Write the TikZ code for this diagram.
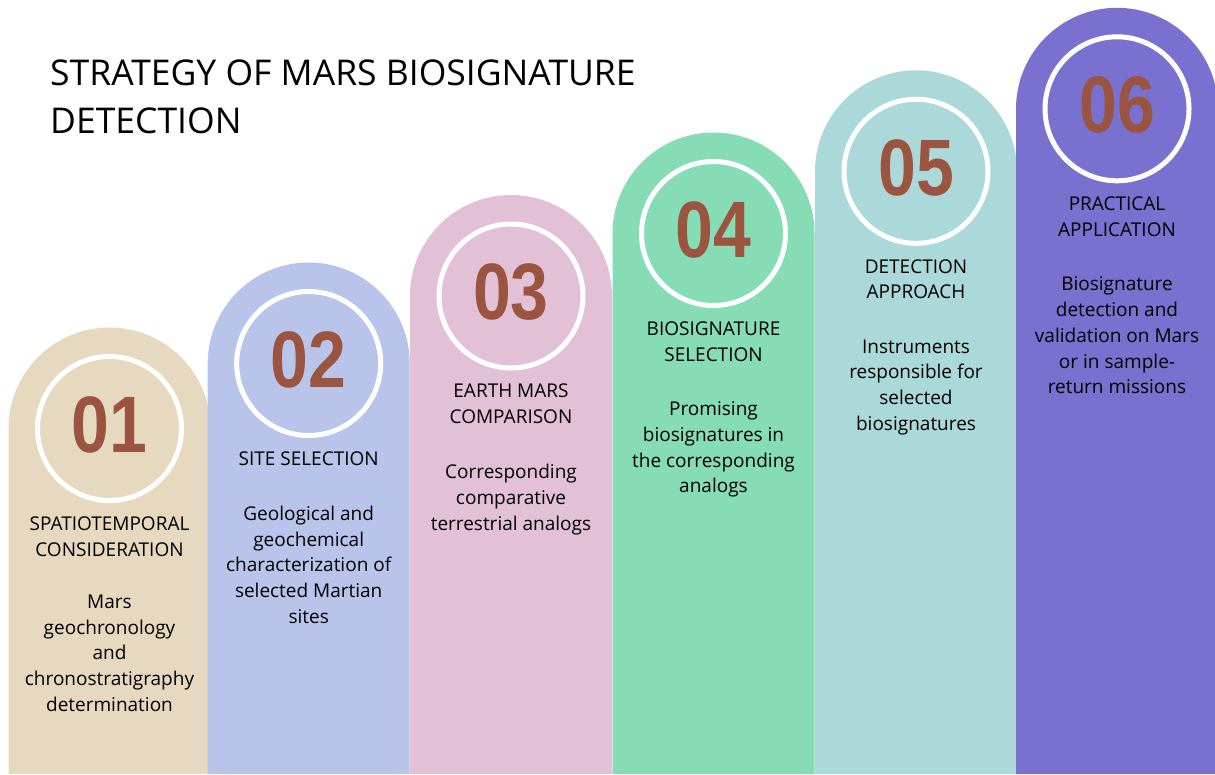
\documentclass[tikz,border=0pt]{standalone}
\usepackage{fontspec}
\setmainfont{Open Sans}
\newfontfamily\numfont[FakeStretch=0.85]{Liberation Sans}
\usetikzlibrary{positioning}
\definecolor{colA}{HTML}{E6D9BF}
\definecolor{colB}{HTML}{B8C4EA}
\definecolor{colC}{HTML}{E2C1D6}
\definecolor{colD}{HTML}{86DCB4}
\definecolor{colE}{HTML}{ABD9D9}
\definecolor{colF}{HTML}{7A70D0}
\definecolor{marsred}{HTML}{9A543F}

\begin{document}
\begin{tikzpicture}[x=1pt,y=1pt,
  ring/.style={circle, draw=white, line width=5pt, minimum size=144pt, inner sep=0pt,
    text depth=8pt, text=marsred, font=\numfont\bfseries\fontsize{80}{80}\selectfont},
  head/.style={align=center, inner sep=0pt, font=\fontsize{19}{25.7}\selectfont},
  body/.style={head}]
\useasboundingbox (0,0) rectangle (1215,-774);
\node[anchor=north west, align=left, inner sep=0pt, font=\fontsize{35.5}{48}\selectfont] (title) at (50,-60)
  {STRATEGY OF MARS BIOSIGNATURE\\DETECTION};
\foreach \i/\x/\y/\col/\gap/\hd/\bd in {
  1/109.5/428.5/colA/38/{SPATIOTEMPORAL\\CONSIDERATION}/{Mars\\geochronology\\and\\chronostratigraphy\\determination},
  2/308.7/363.5/colB/40/{SITE SELECTION}/{Geological and\\geochemical\\characterization of\\selected Martian\\sites},
  3/511/296/colC/40/{EARTH MARS\\COMPARISON}/{Corresponding\\comparative\\terrestrial analogs},
  4/713.5/233.5/colD/40/{BIOSIGNATURE\\SELECTION}/{Promising\\biosignatures in\\the corresponding\\analogs},
  5/916/171.3/colE/40/{DETECTION\\APPROACH}/{Instruments\\responsible for\\selected\\biosignatures},
  6/1117/108.8/colF/40/{PRACTICAL\\APPLICATION}/{Biosignature\\detection and\\validation on Mars\\or in sample-\\return missions}}{
  \coordinate (o\i) at (\x,-\y);
  \fill[\col] ([xshift=-101pt]o\i) arc[start angle=180, end angle=0, radius=101pt]
    -- ++(0,\y-774) -- ++(-202,0) -- cycle;
  \node[ring] (c\i) at (o\i) {0\i};
  \node[head, below=13.5pt of c\i] (h\i) {\hd};
  \node[body, below=\gap pt of h\i] (b\i) {\bd};
}
\end{tikzpicture}
\end{document}
